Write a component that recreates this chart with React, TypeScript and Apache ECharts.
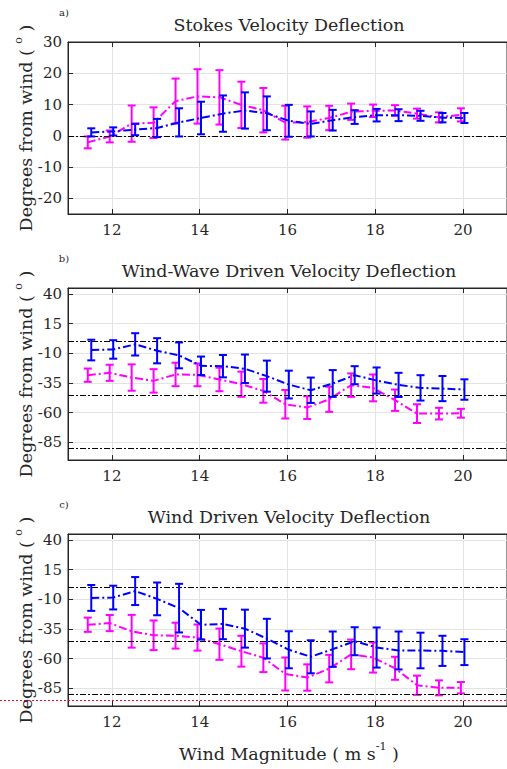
import React, { useEffect, useRef } from "react";
import * as echarts from "echarts";

const WIND = [11.5, 12, 12.5, 13, 13.5, 14, 14.5, 15, 15.5, 16, 16.5, 17, 17.5, 18, 18.5, 19, 19.5, 20];
const BLUE_OFFSET = 0.03;
const MAG_OFFSET = -0.05;

const TITLES = ["Stokes Velocity Deflection", "Wind-Wave Driven Velocity Deflection", "Wind Driven Velocity Deflection"];
const PANEL_TAGS = ["a)", "b)", "c)"];
const X_TICKS = [12, 14, 16, 18, 20];
const Y_TICKS_A = [-20, -10, 0, 10, 20, 30];
const Y_TICKS_BC = [-85, -60, -35, -10, 15, 40];
const REF_A = [0];
const REF_BC = [0, -45, -90];

const stokesBlue = [1.1, 1.4, 2.0, 2.5, 4.3, 5.7, 7.1, 8.1, 7.2, 4.8, 3.8, 5.0, 6.0, 6.6, 6.6, 6.4, 5.8, 5.7];
const stokesBlueErr = [1.3, 1.3, 1.8, 2.9, 4.5, 5.2, 5.8, 5.8, 5.4, 5.1, 4.0, 3.3, 2.2, 2.0, 1.9, 1.6, 1.5, 1.6];
const stokesMag = [-2.1, -0.2, 3.9, 4.2, 11.1, 12.6, 12.3, 9.9, 8.2, 4.2, 4.4, 5.7, 7.7, 8.0, 8.1, 7.1, 5.9, 6.7];
const stokesMagErr = [1.9, 1.9, 5.8, 4.9, 7.2, 8.7, 8.7, 7.4, 7.1, 5.4, 5.0, 3.9, 2.6, 2.0, 1.7, 1.6, 1.6, 2.1];

const waveBlue = [-7.3, -6.8, -2.5, -7.9, -11.8, -20.6, -20.9, -23.1, -29.3, -36.4, -41.2, -35.5, -28.5, -33.0, -36.7, -39.2, -39.8, -40.6];
const waveBlueErr = [8.7, 7.8, 9.4, 10.6, 10.9, 7.8, 9.4, 12.0, 13.1, 11.7, 10.7, 11.3, 7.6, 11.0, 10.2, 10.7, 10.6, 8.6];
const waveMag = [-28.5, -26.5, -30.5, -33.3, -27.9, -28.2, -32.1, -36.1, -41.7, -53.0, -55.8, -48.8, -36.9, -39.2, -49.6, -60.9, -60.9, -60.6];
const waveMagErr = [5.6, 6.8, 11.1, 9.9, 9.9, 9.6, 9.9, 10.6, 10.0, 12.0, 9.6, 10.6, 9.9, 11.3, 9.0, 7.9, 4.9, 3.7];

const windBlue = [-8.9, -8.6, -3.1, -9.7, -17.5, -31.5, -30.9, -34.8, -43.2, -52.6, -58.5, -52.1, -45.4, -50.7, -53.2, -53.2, -53.5, -54.6];
const windBlueErr = [10.9, 10.0, 11.8, 13.8, 20.5, 12.5, 12.8, 16.0, 16.7, 15.6, 13.9, 14.9, 11.8, 16.9, 16.0, 15.0, 12.7, 10.9];
const windMag = [-31.5, -30.1, -37.0, -40.4, -40.7, -42.3, -47.9, -53.8, -59.3, -73.0, -76.0, -68.5, -56.5, -59.1, -68.2, -82.5, -84.7, -84.6];
const windMagErr = [6.0, 6.8, 13.8, 12.5, 10.9, 11.0, 13.2, 13.0, 12.1, 13.9, 11.1, 11.6, 12.5, 12.7, 9.7, 8.1, 6.3, 4.8];

const BLUE = "#0000ff";
const MAGENTA = "#ff00ff";
const TEXT = "#262626";
const FONT = "DejaVu Serif";
const GRID_TOPS = [42, 288, 534];
const GRID_H = 172;
const GRID_LEFT = 68;
const GRID_W = 442;

export default function App() {
  const ref = useRef<HTMLDivElement>(null);
  useEffect(() => {
    if (!ref.current) return;
    const chart = echarts.init(ref.current, null, { renderer: "svg" });
    const panels = [
      { blue: stokesBlue, blueErr: stokesBlueErr, mag: stokesMag, magErr: stokesMagErr, min: -25, max: 30, ticks: Y_TICKS_A, refs: REF_A },
      { blue: waveBlue, blueErr: waveBlueErr, mag: waveMag, magErr: waveMagErr, min: -100, max: 45, ticks: Y_TICKS_BC, refs: REF_BC },
      { blue: windBlue, blueErr: windBlueErr, mag: windMag, magErr: windMagErr, min: -100, max: 45, ticks: Y_TICKS_BC, refs: REF_BC },
    ];
    const grid: any[] = [];
    const xAxis: any[] = [];
    const yAxis: any[] = [];
    const series: any[] = [];
    const graphic: any[] = [];
    const errRender = (color: string) => (params: any, api: any) => {
      const x = api.value(0);
      const lo = api.coord([x, api.value(1)]);
      const hi = api.coord([x, api.value(2)]);
      const c = 4;
      const st = { stroke: color, lineWidth: 2 };
      return {
        type: "group",
        children: [
          { type: "line", shape: { x1: lo[0], y1: lo[1], x2: hi[0], y2: hi[1] }, style: st },
          { type: "line", shape: { x1: lo[0] - c, y1: lo[1], x2: lo[0] + c, y2: lo[1] }, style: st },
          { type: "line", shape: { x1: hi[0] - c, y1: hi[1], x2: hi[0] + c, y2: hi[1] }, style: st },
        ],
      };
    };
    const richLabel = {
      a: { fontSize: 17.5, fontFamily: FONT, fill: TEXT, lineHeight: 22, verticalAlign: "bottom" },
      s: { fontSize: 11, fontFamily: FONT, fill: TEXT, lineHeight: 22, verticalAlign: "top" },
    };
    panels.forEach((p, i) => {
      grid.push({ left: GRID_LEFT, top: GRID_TOPS[i], width: GRID_W, height: GRID_H, show: true, backgroundColor: "#fff", borderColor: TEXT, borderWidth: 1 });
      const xBase = {
        gridIndex: i, type: "value", min: 11, max: 21,
        axisLine: { show: true, onZero: false, lineStyle: { color: TEXT, width: 1 } },
        axisTick: { show: true, inside: true, length: 5, customValues: X_TICKS, lineStyle: { color: TEXT } },
      };
      xAxis.push({
        ...xBase, position: "bottom",
        axisLabel: { show: true, customValues: X_TICKS, margin: 8, color: TEXT, fontFamily: FONT, fontSize: 15 },
        splitLine: { show: true, lineStyle: { color: "#e3e3e3", width: 1 } },
      });
      xAxis.push({ ...xBase, position: "top", axisLabel: { show: false }, splitLine: { show: false } });
      yAxis.push({
        gridIndex: i, type: "value", min: p.min, max: p.max,
        axisLine: { show: true, onZero: false, lineStyle: { color: TEXT, width: 1 } },
        axisTick: { show: true, inside: true, length: 5, customValues: p.ticks, lineStyle: { color: TEXT } },
        axisLabel: { show: true, customValues: p.ticks, margin: 6, color: TEXT, fontFamily: FONT, fontSize: 15 },
        splitLine: { show: true, lineStyle: { color: "#e3e3e3", width: 1 } },
      });
      const xi = i * 2;
      series.push({
        type: "line", xAxisIndex: xi, yAxisIndex: i, silent: true, symbol: "none", z: 1,
        data: [],
        markLine: {
          silent: true, symbol: "none", label: { show: false },
          lineStyle: { color: "#000", width: 1.2, type: [6, 2, 2, 2] },
          data: p.refs.map((v) => ({ yAxis: v })),
        },
      });
      series.push({
        type: "line", xAxisIndex: xi, yAxisIndex: i, symbol: "none", z: 3,
        data: WIND.map((w, k) => [w + MAG_OFFSET, p.mag[k]]),
        lineStyle: { color: MAGENTA, width: 2, type: [8, 3, 2, 3] },
      });
      series.push({
        type: "custom", xAxisIndex: xi, yAxisIndex: i, z: 4,
        renderItem: errRender(MAGENTA),
        encode: { x: 0, y: [1, 2] },
        data: WIND.map((w, k) => [w + MAG_OFFSET, p.mag[k] - p.magErr[k], p.mag[k] + p.magErr[k]]),
      });
      series.push({
        type: "line", xAxisIndex: xi, yAxisIndex: i, symbol: "none", z: 5,
        data: WIND.map((w, k) => [w + BLUE_OFFSET, p.blue[k]]),
        lineStyle: { color: BLUE, width: 2, type: [8, 3, 2, 3] },
      });
      series.push({
        type: "custom", xAxisIndex: xi, yAxisIndex: i, z: 6,
        renderItem: errRender(BLUE),
        encode: { x: 0, y: [1, 2] },
        data: WIND.map((w, k) => [w + BLUE_OFFSET, p.blue[k] - p.blueErr[k], p.blue[k] + p.blueErr[k]]),
      });
      graphic.push({
        type: "text", x: GRID_LEFT + GRID_W / 2, y: GRID_TOPS[i] - 17,
        style: { text: TITLES[i], fill: TEXT, fontSize: 17.5, fontFamily: FONT, textAlign: "center", textVerticalAlign: "middle" },
      });
      graphic.push({
        type: "text", x: 64, y: GRID_TOPS[i] - 30,
        style: { text: PANEL_TAGS[i], fill: TEXT, fontSize: 10, fontFamily: FONT, textAlign: "center", textVerticalAlign: "middle" },
      });
      graphic.push({
        type: "text", x: 24, y: GRID_TOPS[i] + GRID_H / 2, rotation: Math.PI / 2,
        style: {
          text: "{a|Degrees from wind ( }{s|o}{a| )}",
          rich: richLabel,
          textAlign: "center", textVerticalAlign: "middle",
        },
      });
    });
    graphic.push({
      type: "text", x: GRID_LEFT + GRID_W / 2, y: 752,
      style: {
        text: "{a|Wind Magnitude ( m s}{s|-1}{a| )}",
        rich: richLabel,
        textAlign: "center", textVerticalAlign: "middle",
      },
    });
    graphic.push({
      type: "line", shape: { x1: 0, y1: 700.5, x2: 507, y2: 700.5 },
      style: { stroke: "#e0102a", lineWidth: 1, lineDash: [2, 2] }, z: 100,
    });
    chart.setOption({ animation: false, backgroundColor: "#fff", textStyle: { fontFamily: FONT }, grid, xAxis, yAxis, series, graphic });
    return () => chart.dispose();
  }, []);
  return <div ref={ref} style={{ position: "fixed", left: 0, top: 0, width: 507, height: 769 }} />;
}
